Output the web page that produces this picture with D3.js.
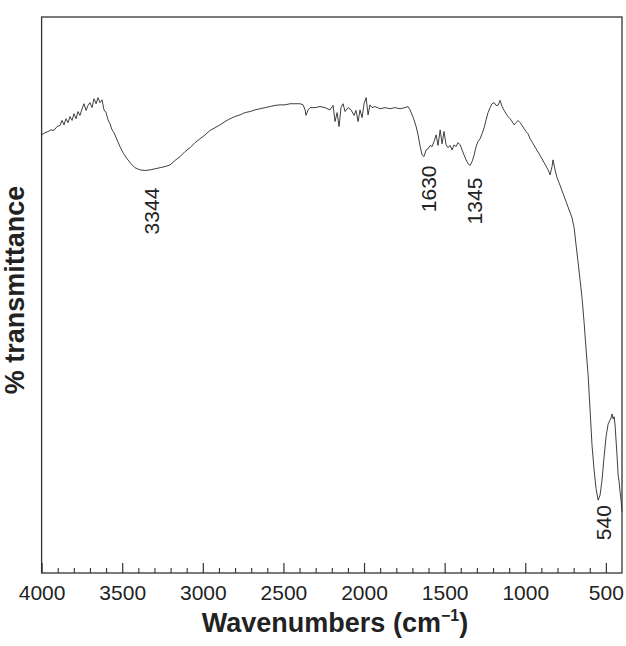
<!DOCTYPE html>
<html>
<head>
<meta charset="utf-8">
<script src="https://cdn.jsdelivr.net/npm/d3@7"></script>
<style>
  html, body { margin: 0; padding: 0; background: #fff; }
  svg { display: block; }
</style>
</head>
<body>
<svg id="chart" width="626" height="646"></svg>
<script>
// ---- data ----
const wavenumber = [
  4000,3979,3960,3942,3923,3904,3886,3873,3861,3849,3836,3824,3811,3799,3786,3774,3762,3749,3737,3724,
  3712,3700,3687,3675,3662,3650,3638,3625,3613,3600,3588,3576,3563,3551,3532,3514,3495,3470,3445,3421,
  3390,3358,3327,3296,3265,3234,3203,3172,3141,3110,3079,3048,3017,2986,2955,2924,2893,2862,2831,2800,
  2769,2738,2707,2676,2645,2614,2583,2552,2521,2490,2459,2428,2397,2378,2366,2360,2347,2335,2304,2273,
  2242,2211,2192,2180,2167,2155,2143,2130,2118,2099,2081,2062,2050,2037,2025,2012,2000,1987,1975,1963,
  1950,1932,1901,1870,1839,1808,1777,1746,1727,1715,1702,1690,1677,1665,1652,1640,1628,1615,1603,1590,
  1578,1566,1553,1541,1528,1516,1504,1491,1479,1466,1454,1442,1429,1417,1404,1392,1380,1367,1355,1342,
  1330,1317,1305,1293,1280,1268,1255,1243,1231,1218,1206,1193,1181,1169,1156,1144,1131,1119,1107,1094,
  1082,1069,1057,1045,1032,1020,1007,995,983,970,951,933,908,883,858,846,834,828,815,803,
  784,765,747,728,710,697,685,672,660,648,635,623,610,598,586,573,561,548,536,524,
  511,499,486,474,468,461,455,449,443,437,430,424,418,412,406,400
];
const transmittance = [
  78.8,79.2,79.4,79.7,79.6,80.3,80.5,81.4,80.6,81.7,81.0,82.1,81.4,82.6,81.7,83.0,82.3,83.5,84.4,83.2,
  84.1,84.6,83.7,85.3,84.4,85.5,84.6,85.1,83.3,82.8,81.5,80.8,79.7,79.2,77.9,76.7,75.6,74.5,73.6,72.9,
  72.5,72.4,72.5,72.7,72.9,73.1,73.4,74.2,74.9,75.8,76.5,77.4,78.1,78.8,79.6,80.1,80.6,81.2,81.7,82.1,
  82.4,82.8,83.0,83.3,83.5,83.7,83.9,84.1,84.2,84.2,84.4,84.4,84.4,84.2,83.3,82.3,83.3,83.7,83.7,83.9,
  83.7,83.3,84.1,81.2,82.8,80.3,83.7,84.4,83.0,83.7,83.3,82.3,83.2,81.2,83.3,81.9,84.4,85.5,82.4,84.2,
  83.7,83.9,83.5,83.7,83.5,83.7,83.5,83.7,83.9,83.3,82.4,81.5,80.3,78.8,76.7,75.2,74.9,76.1,76.3,76.9,
  76.7,77.6,78.8,76.9,79.7,77.2,79.4,77.0,76.5,76.9,76.1,77.0,76.7,77.4,77.0,76.1,75.2,74.3,73.6,73.3,
  74.0,75.2,76.7,77.6,78.1,79.0,80.1,81.5,82.8,83.7,84.4,84.6,84.1,84.1,85.0,83.9,83.2,82.6,82.1,81.7,
  81.2,80.6,81.0,81.4,81.0,80.5,79.9,79.4,79.0,78.1,77.2,76.3,75.1,73.8,72.5,71.6,73.1,74.3,72.5,71.1,
  69.7,68.2,66.8,65.3,63.9,62.1,59.0,55.8,52.7,49.5,45.0,40.3,35.5,29.3,23.0,18.5,15.2,13.1,14.0,16.7,
  20.9,24.5,26.8,27.5,27.9,28.6,27.7,28.1,26.6,23.9,20.7,17.6,16.4,14.6,13.1,11.0
];
const majorTicks = [4000,3500,3000,2500,2000,1500,1000,500];
const minorTicks = [3900,3800,3700,3600,3400,3300,3200,3100,2900,2800,2700,2600,2400,2300,2200,2100,
                    1900,1800,1700,1600,1400,1300,1200,1100,900,800,700,600];
const peakWavenumbers = [3344,1630,1345,540];
const peakLabels = ["3344","1630","1345","540"];
const peakLabelLevels = [69.3,73.3,71.1,12.2];
const xTitle = "Wavenumbers (cm";
const yTitle = "% transmittance";

// ---- layout ----
const padL = 41.6, padR = 622, padT = 17, padB = 573;
const svg = d3.select("#chart");
const x = d3.scaleLinear().domain([4000, 400]).range([padL, padR]);
const y = d3.scaleLinear().domain([0, 100]).range([padB, padT]);
const font = "'Liberation Sans', Arial, Helvetica, sans-serif";

// spectrum
const pts = wavenumber.map((w, i) => [w, transmittance[i]]);
svg.append("path")
  .datum(pts)
  .attr("fill", "none")
  .attr("stroke", "#2a2a2a")
  .attr("stroke-width", 0.9)
  .attr("stroke-linejoin", "round")
  .attr("d", d3.line().x(d => x(d[0])).y(d => y(d[1])));

// minor ticks
const minorAxis = d3.axisBottom(x).tickValues(minorTicks).tickSize(-5).tickFormat("");
svg.append("g").attr("transform", `translate(0,${padB})`).call(minorAxis)
  .call(g => g.select(".domain").remove())
  .call(g => g.selectAll("line").attr("stroke", "#333").attr("stroke-width", 1.1));

// major ticks with labels
const majorAxis = d3.axisBottom(x).tickValues(majorTicks).tickSize(-10).tickPadding(12)
  .tickFormat(d3.format("d"));
svg.append("g").attr("transform", `translate(0,${padB})`).call(majorAxis)
  .call(g => g.select(".domain").remove())
  .call(g => g.selectAll("line").attr("stroke", "#333").attr("stroke-width", 1.2))
  .call(g => g.selectAll("text").attr("font-family", font).attr("font-size", 21).attr("fill", "#222"));

// frame
svg.append("rect")
  .attr("x", padL).attr("y", padT)
  .attr("width", padR - padL).attr("height", padB - padT)
  .attr("fill", "none").attr("stroke", "#333").attr("stroke-width", 1.3);

// peak annotations
svg.append("g").selectAll("text")
  .data(peakWavenumbers)
  .join("text")
  .attr("transform", (d, i) => `translate(${x(d) + 12},${y(peakLabelLevels[i])}) rotate(-90)`)
  .attr("text-anchor", "end")
  .attr("font-family", font)
  .attr("font-size", 21)
  .attr("fill", "#222")
  .text((d, i) => peakLabels[i]);

// x title
const xt = svg.append("text")
  .attr("x", 335).attr("y", 632)
  .attr("text-anchor", "middle")
  .attr("font-family", font)
  .attr("font-size", 27)
  .attr("font-weight", "bold")
  .attr("fill", "#222");
xt.append("tspan").text(xTitle);
xt.append("tspan").attr("font-size", 16).attr("dy", -11).text("\u22121");
xt.append("tspan").attr("dy", 11).text(")");

// y title
svg.append("text")
  .attr("transform", `translate(24,${(padT + padB) / 2 - 5}) rotate(-90)`)
  .attr("text-anchor", "middle")
  .attr("font-family", font)
  .attr("font-size", 27)
  .attr("font-weight", "bold")
  .attr("fill", "#222")
  .text(yTitle);
</script>
</body>
</html>
